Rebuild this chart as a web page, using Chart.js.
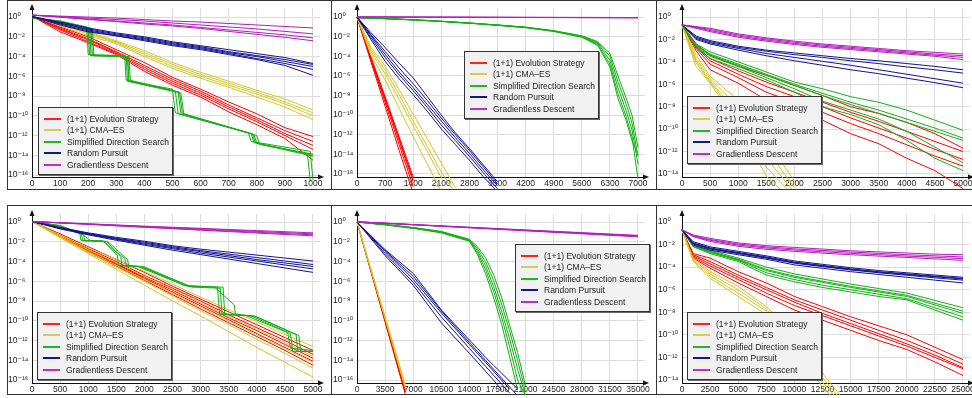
<!DOCTYPE html>
<html>
<head>
<meta charset="utf-8">
<script src="https://cdn.jsdelivr.net/npm/chart.js@4.4.0/dist/chart.umd.min.js"></script>
<style>
body { margin:0; background:#fff; width:972px; height:398px; overflow:hidden; position:relative; font-family:"Liberation Sans", Arial, sans-serif; }
.frame { position:absolute; border:1px solid #333; box-sizing:border-box; }
.vline { position:absolute; width:1px; background:#333; }
canvas { position:absolute; }
.legend { position:absolute; width:135px; height:68px; background:#f1f1f1; border:1px solid #333; box-shadow:1px 1px 0 #666; box-sizing:border-box; }
.legend div { position:absolute; left:0; height:12px; line-height:12px; font-size:8.5px; color:#222; white-space:nowrap; }
.legend span { position:absolute; left:5px; top:5px; width:17px; height:2px; }
.legend b { position:absolute; left:28px; font-weight:normal; }
</style>
</head>
<body>
<div class="frame" style="left:7px;top:0;width:1000px;height:190px"></div>
<div class="frame" style="left:7px;top:205px;width:1000px;height:190px"></div>
<div class="vline" style="left:331px;top:0;height:190px"></div>
<div class="vline" style="left:656px;top:0;height:190px"></div>
<div class="vline" style="left:331px;top:205px;height:190px"></div>
<div class="vline" style="left:656px;top:205px;height:190px"></div>
<script>
const algNames = ['(1+1) Evolution Strategy', '(1+1) CMA\u2013ES', 'Simplified Direction Search', 'Random Pursuit', 'Gradientless Descent'];
const algColors = ['#ff0000', '#d4c622', '#12b012', '#12128e', '#b41cbc'];
const legendColors = ['#ff2020', '#d8cc50', '#20b820', '#101890', '#c030c0'];

// values are log10 of the objective
// panel 1
const p1X = [0,100,200,300,400,500,600,700,800,900,1000];
const p1XTicks = [0,100,200,300,400,500,600,700,800,900,1000];
const p1YTicks = [0,-2,-4,-6,-8,-10,-12,-14,-16];
const p1Red = [
  [0.1,-1.0,-2.0,-3.3,-4.6,-6.1,-7.3,-8.6,-9.8,-11.2,-12.1],
  [0.1,-1.1,-2.2,-3.5,-4.9,-6.3,-7.5,-8.9,-10.2,-11.5,-12.6],
  [0.1,-1.2,-2.3,-3.6,-5.1,-6.5,-7.7,-9.1,-10.4,-11.8,-13.0],
  [0.1,-1.3,-2.5,-3.7,-5.3,-6.7,-7.9,-9.3,-10.6,-12.0,-13.4],
  [0.1,-1.5,-2.6,-3.8,-5.5,-6.9,-8.1,-9.6,-10.9,-12.3,-14.5]
];
const p1Yellow = [
  [0.1,-0.7,-1.5,-2.4,-3.4,-4.6,-5.6,-6.5,-7.4,-8.3,-9.4],
  [0.1,-0.75,-1.6,-2.5,-3.6,-4.8,-5.8,-6.7,-7.6,-8.6,-9.7],
  [0.1,-0.8,-1.7,-2.6,-3.8,-5.0,-6.0,-6.9,-7.8,-8.8,-10.0],
  [0.1,-0.9,-1.9,-2.7,-4.0,-5.2,-6.2,-7.1,-8.1,-9.1,-10.4]
];
const p1Green = [
  [[0,-0.1],[100,-0.4],[195,-1.0],[200,-3.8],[330,-3.9],[335,-6.4],[500,-7.3],[510,-9.7],[770,-11.7],[780,-12.6],[990,-13.6],[1000,-16.5]],
  [[0,-0.1],[100,-0.5],[205,-1.1],[210,-3.9],[340,-4.0],[345,-6.5],[510,-7.5],[520,-9.8],[780,-11.8],[790,-12.7],[1000,-14.0]],
  [[0,-0.1],[100,-0.4],[215,-1.2],[220,-3.9],[345,-4.0],[350,-6.4],[520,-7.6],[530,-9.8],[790,-11.9],[800,-12.8],[980,-13.8],[990,-16.5]],
  [[0,-0.1],[100,-0.45],[200,-1.1],[205,-3.85],[335,-3.95],[340,-6.5],[530,-7.7],[540,-9.8],[800,-12.0],[810,-12.9],[1000,-13.9]],
  [[0,-0.1],[100,-0.5],[210,-1.15],[215,-3.9],[340,-4.0],[345,-6.45],[525,-7.6],[535,-9.75],[785,-11.85],[795,-12.75],[1000,-14.1]]
];
const p1Blue = [
  [0.05,-0.5,-1.1,-1.6,-2.0,-2.5,-2.9,-3.3,-3.7,-4.1,-4.7],
  [0.05,-0.6,-1.2,-1.7,-2.1,-2.6,-3.0,-3.5,-3.9,-4.3,-4.8],
  [0.05,-0.6,-1.3,-1.8,-2.2,-2.7,-3.1,-3.6,-4.0,-4.5,-5.0],
  [0.05,-0.7,-1.4,-1.9,-2.3,-2.8,-3.2,-3.7,-4.2,-4.7,-5.3],
  [0.05,-0.8,-1.5,-1.9,-2.4,-2.9,-3.3,-3.8,-4.3,-4.9,-5.9]
];
const p1Magenta = [
  [0.2,0.1,0.0,-0.1,-0.25,-0.4,-0.5,-0.65,-0.8,-0.95,-1.1],
  [0.2,0.05,-0.1,-0.25,-0.4,-0.6,-0.8,-1.0,-1.2,-1.45,-1.7],
  [0.2,0.0,-0.2,-0.4,-0.6,-0.8,-1.05,-1.3,-1.55,-1.8,-2.1],
  [0.2,0.0,-0.25,-0.45,-0.7,-0.9,-1.15,-1.45,-1.75,-2.05,-2.4]
];

// panel 2
const p2X = [0,350,700,1050,1400,1750,2100,2450,2800,3150,3500,4200,4900,5600,6000,6300,6500,6700,6850,7000];
const p2XTicks = [0,700,1400,2100,2800,3500,4200,4900,5600,6300,7000];
const p2YTicks = [0,-2,-4,-6,-8,-10,-12,-14,-16];
const p2Red = [
  [0,-4.6,-9.1,-13.6,-18.0],
  [0,-4.4,-8.7,-13.0,-17.3],
  [0,-4.3,-8.4,-12.6,-16.8],
  [0,-4.1,-8.1,-12.2,-16.3],
  [0,-4.2,-8.3,-12.4,-16.6]
];
const p2Yellow = [
  [0,-3.9,-6.4,-9.3,-12.2,-15.0,-17.8],
  [0,-3.5,-5.8,-8.4,-11.1,-13.7,-16.4],
  [0,-3.3,-5.4,-7.9,-10.6,-13.2,-15.8,-18.0],
  [0,-3.1,-5.0,-7.4,-9.9,-12.4,-14.9,-17.4]
];
const p2Green = [
  [-0.05,-0.1,-0.15,-0.2,-0.27,-0.34,-0.42,-0.51,-0.6,-0.7,-0.8,-1.02,-1.38,-1.9,-2.5,-3.7,-6.0,-8.2,-10.0,-13.3],
  [-0.05,-0.1,-0.15,-0.2,-0.27,-0.34,-0.42,-0.51,-0.6,-0.7,-0.8,-1.03,-1.4,-1.95,-2.6,-4.0,-6.6,-8.8,-10.8,-14.2],
  [-0.05,-0.1,-0.15,-0.21,-0.28,-0.35,-0.43,-0.52,-0.61,-0.71,-0.82,-1.05,-1.42,-2.0,-2.7,-4.4,-7.2,-9.5,-11.5,-15.0],
  [-0.05,-0.1,-0.16,-0.22,-0.29,-0.36,-0.44,-0.53,-0.62,-0.72,-0.83,-1.06,-1.44,-2.02,-2.8,-4.8,-7.8,-10.1,-12.2,-16.5],
  [-0.05,-0.11,-0.17,-0.23,-0.3,-0.37,-0.45,-0.54,-0.63,-0.73,-0.84,-1.08,-1.46,-2.05,-2.9,-5.1,-8.3,-10.5,-12.6,-14.0]
];
const p2Blue = [
  [0,-2.3,-4.5,-6.3,-7.9,-9.6,-11.4,-13.0,-14.6,-16.3,-17.8],
  [0,-2.1,-4.1,-5.9,-7.5,-9.2,-11.0,-12.6,-14.2,-15.9,-17.5],
  [0,-1.9,-3.8,-5.6,-7.2,-8.9,-10.6,-12.3,-13.9,-15.6,-17.2],
  [0,-1.8,-3.5,-5.2,-6.8,-8.5,-10.3,-12.0,-13.6,-15.3,-17.0],
  [0,-1.6,-3.1,-4.7,-6.2,-8.1,-10.0,-11.8,-13.4,-15.1,-16.8]
];
const p2Magenta = [
  [[0,0.02],[7000,-0.04]],
  [[0,0.02],[7000,-0.06]],
  [[0,0.02],[7000,-0.08]]
];

// panel 3
const p3X = [0,250,500,1000,1500,2000,2500,3000,3500,4000,4500,5000];
const p3XTicks = [0,500,1000,1500,2000,2500,3000,3500,4000,4500,5000];
const p3YTicks = [0,-2,-4,-6,-8,-10,-12,-14];
const p3Red = [
  [-0.7,-2.4,-3.4,-4.4,-5.2,-6.1,-7.0,-8.0,-8.6,-9.4,-10.4,-11.7],
  [-0.7,-2.6,-3.7,-4.8,-5.8,-6.7,-7.6,-8.5,-9.3,-10.2,-11.1,-12.0],
  [-0.7,-2.7,-3.9,-5.1,-6.2,-7.1,-8.0,-9.0,-9.9,-10.8,-11.8,-12.7],
  [-0.7,-2.8,-4.2,-5.4,-6.7,-7.6,-8.5,-9.5,-10.4,-11.4,-12.4,-13.3],
  [-0.7,-3.0,-4.7,-5.9,-7.4,-8.0,-9.2,-10.4,-11.3,-12.6,-13.7,-15.3]
];
const p3Yellow = [
  [-0.7,-3.4,-5.3,-7.4,-11.0,-14.6],
  [-0.7,-3.7,-5.5,-8.0,-11.8,-15.2],
  [-0.7,-3.9,-5.7,-8.6,-12.6,-15.6],
  [-0.7,-4.1,-5.8,-9.0,-13.4,-16.0],
  [-0.7,-4.4,-5.9,-9.5,-14.2,-16.5]
];
const p3Green = [
  [-0.7,-2.4,-3.1,-4.0,-4.9,-5.8,-6.4,-7.1,-7.6,-8.3,-9.2,-10.1],
  [-0.7,-2.5,-3.3,-4.2,-5.1,-6.0,-6.8,-7.6,-8.3,-9.1,-9.9,-10.8],
  [-0.7,-2.5,-3.4,-4.3,-5.2,-6.1,-7.0,-7.8,-8.6,-9.4,-10.2,-11.0],
  [-0.7,-2.6,-3.5,-4.4,-5.4,-6.4,-7.5,-8.3,-9.1,-10.2,-11.6,-13.0],
  [-0.7,-2.7,-3.7,-4.6,-5.6,-6.7,-8.0,-8.7,-9.6,-11.0,-12.6,-13.7]
];
const p3Blue = [
  [-0.7,-1.7,-2.1,-2.6,-2.95,-3.2,-3.45,-3.7,-3.9,-4.15,-4.4,-4.7],
  [-0.7,-1.8,-2.2,-2.7,-3.05,-3.35,-3.6,-3.9,-4.15,-4.45,-4.7,-5.0],
  [-0.7,-1.9,-2.3,-2.8,-3.25,-3.6,-3.95,-4.3,-4.7,-5.1,-5.5,-5.9],
  [-0.7,-2.0,-2.4,-2.95,-3.45,-3.9,-4.3,-4.7,-5.05,-5.45,-5.85,-6.3]
];
const p3Magenta = [
  [-0.7,-0.85,-1.0,-1.5,-1.85,-2.15,-2.4,-2.6,-2.8,-3.0,-3.15,-3.3],
  [-0.7,-0.9,-1.1,-1.6,-1.95,-2.25,-2.5,-2.7,-2.9,-3.1,-3.3,-3.45],
  [-0.7,-0.95,-1.2,-1.7,-2.05,-2.35,-2.6,-2.8,-3.0,-3.2,-3.4,-3.6],
  [-0.7,-1.0,-1.3,-1.8,-2.15,-2.45,-2.7,-2.9,-3.1,-3.3,-3.5,-3.8]
];

// panel 4
const p4X = [0,500,1000,1500,2000,2500,3000,3500,4000,4500,5000];
const p4XTicks = [0,500,1000,1500,2000,2500,3000,3500,4000,4500,5000];
const p4YTicks = [0,-2,-4,-6,-8,-10,-12,-14,-16];
const p4Red = [
  [0.05,-1.2,-2.5,-3.8,-5.1,-6.5,-7.8,-9.1,-10.4,-11.7,-13.0],
  [0.05,-1.3,-2.7,-4.0,-5.4,-6.7,-8.0,-9.4,-10.7,-12.0,-13.4],
  [0.05,-1.35,-2.8,-4.2,-5.6,-6.9,-8.3,-9.7,-11.0,-12.4,-13.8],
  [0.05,-1.4,-2.9,-4.3,-5.7,-7.1,-8.5,-9.9,-11.3,-12.7,-14.1],
  [0.05,-1.45,-3.0,-4.45,-5.9,-7.35,-8.8,-10.2,-11.6,-13.0,-14.5]
];
const p4Yellow = [
  [0.05,-1.3,-2.6,-3.8,-5.0,-6.3,-7.6,-8.9,-10.1,-11.4,-12.6],
  [0.05,-1.4,-2.8,-4.1,-5.5,-6.8,-8.2,-9.5,-10.9,-12.2,-13.6],
  [0.05,-1.5,-3.0,-4.4,-5.8,-7.2,-8.6,-10.0,-11.4,-12.8,-14.2],
  [0.05,-1.55,-3.1,-4.6,-6.0,-7.5,-9.0,-10.4,-11.9,-13.3,-14.8],
  [0.05,-1.6,-3.2,-4.8,-6.4,-8.0,-9.5,-11.1,-12.7,-14.2,-15.7]
];
const p4Green = [
  [[0,0.05],[500,-0.4],[880,-1.2],[900,-1.9],[1280,-1.95],[1520,-3.4],[1540,-4.4],[1880,-4.5],[2750,-6.5],[3300,-6.6],[3340,-9.35],[3900,-9.5],[4600,-11.3],[4640,-13.1],[5000,-13.1]],
  [[0,0.05],[500,-0.35],[920,-1.3],[940,-1.9],[1320,-1.95],[1580,-3.5],[1600,-4.4],[1920,-4.5],[2800,-6.5],[3400,-6.6],[3430,-9.35],[3950,-9.5],[4700,-11.4],[4730,-13.1],[5000,-13.1]],
  [[0,0.05],[500,-0.4],[850,-1.1],[870,-1.85],[1250,-1.9],[1650,-3.7],[1680,-4.45],[1950,-4.5],[2700,-6.4],[3250,-6.6],[3600,-8.4],[3620,-9.35],[4000,-9.6],[4750,-11.5],[4780,-13.1],[5000,-13.1]],
  [[0,0.05],[500,-0.45],[900,-1.3],[1050,-1.9],[1350,-2.0],[1700,-3.8],[1720,-4.45],[2000,-4.55],[2850,-6.6],[3350,-6.7],[3380,-9.3],[3800,-9.45],[4550,-11.2],[4600,-12.8],[5000,-13.0]]
];
const p4Blue = [
  [0.05,-0.55,-1.1,-1.55,-1.95,-2.4,-2.75,-3.05,-3.35,-3.65,-3.95],
  [0.05,-0.6,-1.15,-1.65,-2.05,-2.5,-2.9,-3.25,-3.6,-3.95,-4.3],
  [0.05,-0.6,-1.2,-1.7,-2.15,-2.6,-3.0,-3.4,-3.8,-4.15,-4.5],
  [0.05,-0.65,-1.25,-1.75,-2.25,-2.7,-3.15,-3.55,-3.95,-4.35,-4.75],
  [0.05,-0.7,-1.3,-1.85,-2.35,-2.85,-3.3,-3.75,-4.2,-4.65,-5.1]
];
const p4Magenta = [
  [0.05,-0.07,-0.18,-0.3,-0.42,-0.53,-0.64,-0.76,-0.87,-0.98,-1.1],
  [0.05,-0.08,-0.2,-0.33,-0.46,-0.58,-0.7,-0.83,-0.95,-1.08,-1.2],
  [0.05,-0.09,-0.22,-0.36,-0.5,-0.63,-0.77,-0.9,-1.04,-1.17,-1.3],
  [0.05,-0.1,-0.24,-0.39,-0.54,-0.68,-0.83,-0.97,-1.12,-1.26,-1.4]
];

// panel 5
const p5X = [0,3500,7000,10500,14000,15000,16000,17000,18000,19000,20000,21000];
const p5XTicks = [0,3500,7000,10500,14000,17500,21000,24500,28000,31500,35000];
const p5YTicks = [0,-2,-4,-6,-8,-10,-12,-14,-16];
const p5Red = [
  [[0,0],[6000,-17.4]],
  [[0,0],[6000,-17.2]],
  [[0,0],[6000,-17.0]]
];
const p5Yellow = [
  [[0,0],[6000,-16.8]],
  [[0,0],[6000,-16.6]],
  [[0,0],[6000,-16.4]]
];
const p5Green = [
  [0,-0.25,-0.55,-0.95,-1.75,-2.5,-3.6,-5.3,-7.6,-10.4,-13.2,-16.6],
  [0,-0.25,-0.58,-1.0,-1.8,-2.7,-4.0,-5.9,-8.3,-11.0,-14.0,-17.2],
  [0,-0.27,-0.6,-1.02,-1.85,-2.9,-4.4,-6.5,-9.0,-11.8,-14.9,-17.6],
  [0,-0.27,-0.62,-1.05,-1.9,-3.1,-4.8,-7.0,-9.6,-12.6,-16.0,-17.6],
  [0,-0.3,-0.65,-1.1,-1.95,-3.3,-5.2,-7.6,-10.3,-13.6,-17.0]
];
const p5Blue = [
  [0,-3.4,-6.4,-10.2,-13.3,-14.2,-15.1,-16.0,-17.0],
  [0,-3.2,-6.1,-9.6,-12.8,-13.7,-14.6,-15.5,-16.4,-17.3],
  [0,-3.0,-5.8,-9.2,-12.4,-13.3,-14.2,-15.1,-16.0,-16.9],
  [0,-2.9,-5.5,-9.0,-12.2,-13.1,-14.0,-14.9,-15.8,-16.7,-17.6],
  [0,-2.8,-5.2,-8.9,-11.95,-12.8,-13.7,-14.5,-15.3,-16.1,-16.9]
];
const p5Magenta = [
  [[0,0.02],[35000,-1.35]],
  [[0,0.02],[35000,-1.4]],
  [[0,0.02],[35000,-1.45]],
  [[0,0.02],[35000,-1.5]]
];

// panel 6
const p6X = [0,1000,2500,5000,7500,10000,12500,15000,17500,20000,22500,25000];
const p6XTicks = [0,2500,5000,7500,10000,12500,15000,17500,20000,22500,25000];
const p6YTicks = [0,-2,-4,-6,-8,-10,-12,-14];
const p6Red = [
  [-0.7,-2.8,-3.2,-4.4,-5.4,-6.6,-7.5,-8.4,-9.2,-10.0,-11.1,-12.2],
  [-0.7,-2.9,-3.5,-4.7,-5.8,-6.9,-7.8,-8.7,-9.6,-10.5,-11.5,-12.6],
  [-0.7,-3.0,-3.7,-4.9,-6.0,-7.1,-8.1,-9.0,-9.9,-10.8,-11.8,-12.9],
  [-0.7,-3.1,-3.9,-5.1,-6.3,-7.4,-8.3,-9.2,-10.1,-11.0,-12.0,-13.0],
  [-0.7,-3.2,-4.1,-5.4,-6.6,-7.8,-8.7,-9.6,-10.5,-11.3,-12.4,-13.6]
];
const p6Yellow = [
  [-0.7,-3.2,-4.4,-5.7,-7.5,-9.9,-13.4,-16.5],
  [-0.7,-3.3,-4.6,-6.0,-7.7,-10.3,-13.8,-16.8],
  [-0.7,-3.4,-4.8,-6.3,-7.9,-10.8,-14.2,-17.0],
  [-0.7,-3.5,-5.0,-6.6,-8.2,-11.3,-14.6,-17.3]
];
const p6Green = [
  [-0.7,-2.05,-2.5,-3.2,-4.0,-4.6,-5.05,-5.5,-5.9,-6.3,-6.95,-7.6],
  [-0.7,-2.1,-2.6,-3.3,-4.2,-4.8,-5.25,-5.7,-6.1,-6.5,-7.2,-7.9],
  [-0.7,-2.1,-2.65,-3.35,-4.3,-4.9,-5.35,-5.8,-6.2,-6.6,-7.35,-8.1],
  [-0.7,-2.15,-2.7,-3.4,-4.5,-5.1,-5.6,-6.0,-6.4,-6.8,-7.6,-8.4],
  [-0.7,-2.2,-2.8,-3.5,-4.7,-5.3,-5.8,-6.2,-6.6,-6.9,-7.8,-8.7]
];
const p6Blue = [
  [-0.7,-1.75,-2.2,-2.6,-3.0,-3.45,-3.75,-4.05,-4.3,-4.5,-4.7,-4.9],
  [-0.7,-1.85,-2.3,-2.7,-3.1,-3.55,-3.85,-4.15,-4.4,-4.6,-4.8,-5.0],
  [-0.7,-1.9,-2.35,-2.75,-3.15,-3.6,-3.9,-4.2,-4.45,-4.65,-4.85,-5.05],
  [-0.7,-1.95,-2.4,-2.8,-3.2,-3.65,-3.95,-4.25,-4.5,-4.72,-4.95,-5.15],
  [-0.7,-2.05,-2.5,-2.9,-3.3,-3.8,-4.1,-4.4,-4.65,-4.9,-5.15,-5.4]
];
const p6Magenta = [
  [-0.7,-1.15,-1.45,-1.85,-2.1,-2.25,-2.4,-2.55,-2.65,-2.75,-2.85,-2.9],
  [-0.7,-1.2,-1.55,-1.95,-2.2,-2.38,-2.52,-2.66,-2.78,-2.9,-3.0,-3.1],
  [-0.7,-1.25,-1.62,-2.05,-2.3,-2.48,-2.64,-2.78,-2.9,-3.02,-3.13,-3.25],
  [-0.7,-1.3,-1.72,-2.15,-2.42,-2.6,-2.76,-2.9,-3.02,-3.14,-3.27,-3.4]
];

// layout of the six panels (pixels) and axis ranges
const panels = [
  { left:7,   top:0,   w:324, h:189, padTop:8, padRight:11, xMax:1025,  yMin:-16.2,  yMax:0.91, grid:p1X, xTicks:p1XTicks, yTicks:p1YTicks, series:[p1Red,p1Yellow,p1Green,p1Blue,p1Magenta], legend:[38,107] },
  { left:332, top:0,   w:324, h:189, padTop:8, padRight:11, xMax:7174,  yMin:-16.31, yMax:0.92, grid:p2X, xTicks:p2XTicks, yTicks:p2YTicks, series:[p2Red,p2Yellow,p2Green,p2Blue,p2Magenta], legend:[464,51] },
  { left:657, top:0,   w:330, h:189, padTop:8, padRight:17, xMax:5125,  yMin:-14.27, yMax:0.8,  grid:p3X, xTicks:p3XTicks, yTicks:p3YTicks, series:[p3Red,p3Yellow,p3Green,p3Blue,p3Magenta], legend:[687,96] },
  { left:7,   top:205, w:324, h:190, padTop:9, padRight:11, xMax:5125,  yMin:-16.3,  yMax:0.81, grid:p4X, xTicks:p4XTicks, yTicks:p4YTicks, series:[p4Red,p4Yellow,p4Green,p4Blue,p4Magenta], legend:[37,312] },
  { left:332, top:205, w:324, h:190, padTop:9, padRight:11, xMax:35872, yMin:-16.3,  yMax:0.81, grid:p5X, xTicks:p5XTicks, yTicks:p5YTicks, series:[p5Red,p5Yellow,p5Green,p5Blue,p5Magenta], legend:[515,244] },
  { left:657, top:205, w:330, h:190, padTop:9, padRight:17, xMax:25623, yMin:-14.27, yMax:0.71, grid:p6X, xTicks:p6XTicks, yTicks:p6YTicks, series:[p6Red,p6Yellow,p6Green,p6Blue,p6Magenta], legend:[687,312] }
];

const supMap = {'0':'\u2070','1':'\u00b9','2':'\u00b2','3':'\u00b3','4':'\u2074','5':'\u2075','6':'\u2076','7':'\u2077','8':'\u2078','9':'\u2079','-':'\u207b'};
function sup(n) {
  return String(n).split('').map(c => supMap[c]).join('');
}

const tickFont = { family: "'Liberation Sans', 'DejaVu Sans', sans-serif", size: 8.5 };

// little arrow heads at the axis ends
const arrowPlugin = {
  id: 'arrows',
  afterDraw(chart) {
    const ctx = chart.ctx, a = chart.chartArea;
    ctx.save();
    ctx.fillStyle = '#111';
    ctx.beginPath();
    ctx.moveTo(a.right + 4, a.bottom);
    ctx.lineTo(a.right - 2, a.bottom - 2.5);
    ctx.lineTo(a.right - 2, a.bottom + 2.5);
    ctx.fill();
    ctx.beginPath();
    ctx.moveTo(a.left, a.top - 4);
    ctx.lineTo(a.left - 2.5, a.top + 2);
    ctx.lineTo(a.left + 2.5, a.top + 2);
    ctx.fill();
    ctx.restore();
  }
};

function drawPanel(p) {
  const cv = document.createElement('canvas');
  cv.width = p.w; cv.height = p.h;
  cv.style.left = p.left + 'px'; cv.style.top = p.top + 'px';
  cv.style.width = p.w + 'px'; cv.style.height = p.h + 'px';
  document.body.appendChild(cv);

  let datasets = [];
  p.series.forEach(function (runs, k) {
    runs.forEach(function (run) {
      datasets.push({
        data: run.map((v, i) => Array.isArray(v) ? { x: v[0], y: Math.pow(10, v[1]) } : { x: p.grid[i], y: Math.pow(10, v) }),
        borderColor: algColors[k],
        borderWidth: 1,
        pointRadius: 0,
        tension: 0,
        fill: false,
        clip: { left: 2, top: 6, right: 2, bottom: 12 }
      });
    });
  });
  datasets.reverse(); // later algorithms on top

  new Chart(cv, {
    type: 'line',
    data: { datasets: datasets },
    options: {
      responsive: false,
      animation: false,
      devicePixelRatio: 1,
      layout: { padding: { left: 1, top: p.padTop, right: p.padRight, bottom: 0 } },
      plugins: { legend: { display: false }, tooltip: { enabled: false } },
      scales: {
        x: {
          type: 'linear', min: 0, max: p.xMax,
          afterBuildTicks: s => { s.ticks = p.xTicks.map(v => ({ value: v })); },
          afterFit: s => { s.height = 12; },
          grid: { color: '#dcdcdc', drawTicks: false, tickLength: 0 },
          border: { color: '#111' },
          ticks: { autoSkip: false, maxRotation: 0, padding: 2, color: '#222', font: tickFont, callback: v => String(v) }
        },
        y: {
          type: 'logarithmic', min: Math.pow(10, p.yMin), max: Math.pow(10, p.yMax),
          afterBuildTicks: s => { s.ticks = p.yTicks.map(e => ({ value: Math.pow(10, e) })); },
          afterFit: s => { s.width = 24; },
          grid: { color: '#dcdcdc', drawTicks: false, tickLength: 0 },
          border: { color: '#111' },
          ticks: { autoSkip: false, crossAlign: 'far', color: '#222', font: tickFont, callback: v => '10' + sup(Math.round(Math.log10(v))) }
        }
      }
    },
    plugins: [arrowPlugin]
  });
}

function drawLegend(pos) {
  const box = document.createElement('div');
  box.className = 'legend';
  box.style.left = pos[0] + 'px';
  box.style.top = pos[1] + 'px';
  algNames.forEach(function (n, i) {
    const row = document.createElement('div');
    row.style.top = Math.round(5 + i * 11.4) + 'px';
    row.innerHTML = '<span style="background:' + legendColors[i] + '"></span><b>' + n + '</b>';
    box.appendChild(row);
  });
  document.body.appendChild(box);
}

panels.forEach(drawPanel);
panels.forEach(p => drawLegend(p.legend));
</script>
</body>
</html>
